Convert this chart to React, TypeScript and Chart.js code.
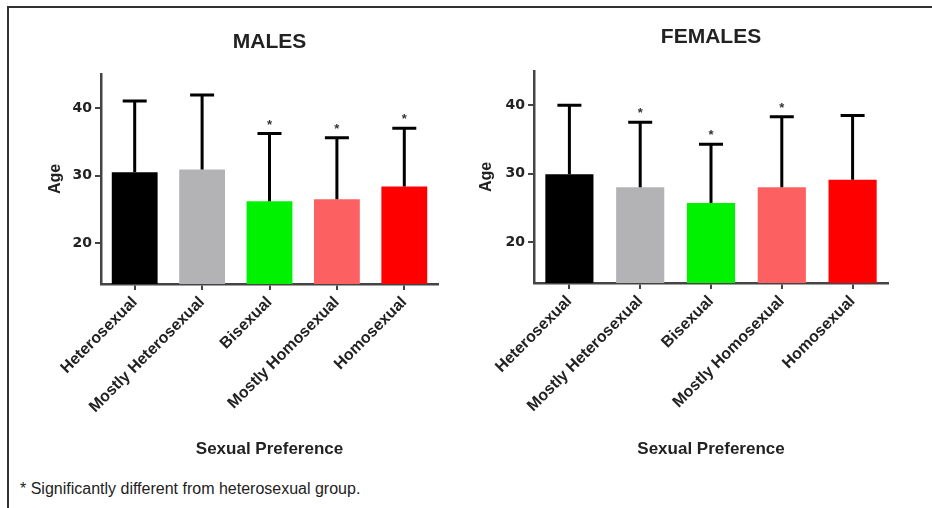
import React, { useEffect, useRef } from "react";
import { Chart, registerables } from "chart.js";

Chart.register(...registerables);

const categories = ["Heterosexual", "Mostly Heterosexual", "Bisexual", "Mostly Homosexual", "Homosexual"];
const barColors = ["#000000", "#b3b3b6", "#00f200", "#fd6060", "#fe0000"];

const maleMeans = [30.5, 30.9, 26.2, 26.5, 28.4];
const maleSD = [10.5, 11.0, 10.0, 9.1, 8.6];
const maleSignificant = [false, false, true, true, true];

const femaleMeans = [29.9, 28.0, 25.7, 28.0, 29.1];
const femaleSD = [10.1, 9.5, 8.6, 10.3, 9.4];
const femaleSignificant = [false, true, true, true, false];

const yTicks = [20, 30, 40];
const yMin = 14;
const yMax = 45;

const FAMILY = '"Liberation Sans", Arial, Helvetica, sans-serif';
const TEXT = "#222222";
const AXIS = "#444444";

function errorBarPlugin(sds: number[], sig: boolean[]) {
  return {
    id: "errorBars",
    afterDatasetsDraw(chart: any) {
      const ctx = chart.ctx;
      const meta = chart.getDatasetMeta(0);
      const yScale = chart.scales.y;
      const data = chart.data.datasets[0].data as number[];
      ctx.save();
      ctx.strokeStyle = "#000";
      ctx.lineWidth = 3;
      meta.data.forEach((bar: any, i: number) => {
        const x = bar.x;
        const y0 = yScale.getPixelForValue(data[i]);
        const y1 = yScale.getPixelForValue(data[i] + sds[i]);
        ctx.beginPath();
        ctx.moveTo(x, y0);
        ctx.lineTo(x, y1);
        ctx.moveTo(x - 12, y1);
        ctx.lineTo(x + 12, y1);
        ctx.stroke();
        if (sig[i]) {
          ctx.fillStyle = "#333";
          ctx.font = `bold 13px ${FAMILY}`;
          ctx.textAlign = "center";
          ctx.textBaseline = "alphabetic";
          ctx.fillText("*", x, y1 - 5);
        }
      });
      ctx.restore();
    },
  };
}

type PanelProps = {
  left: number;
  width: number;
  height: number;
  title: string;
  means: number[];
  sds: number[];
  sig: boolean[];
  chartLeft: number;
  chartRight: number;
  chartBottom: number;
  titlePadTop: number;
  titlePadBottom: number;
  yTitlePad: number;
};

function Panel(p: PanelProps) {
  const ref = useRef<HTMLCanvasElement>(null);
  useEffect(() => {
    const chart = new Chart(ref.current as HTMLCanvasElement, {
      type: "bar",
      data: {
        labels: categories,
        datasets: [
          {
            data: p.means,
            backgroundColor: barColors,
            borderWidth: 0,
            barPercentage: 0.68,
            categoryPercentage: 1,
          },
        ],
      },
      options: {
        responsive: false,
        animation: false,
        devicePixelRatio: 1,
        layout: { padding: { left: 0, right: p.width - p.chartRight, top: 0, bottom: 0 } },
        plugins: {
          legend: { display: false },
          tooltip: { enabled: false },
          title: {
            display: true,
            text: p.title,
            fullSize: false,
            color: TEXT,
            font: { family: FAMILY, size: 21, weight: "bold", lineHeight: 1.2 },
            padding: { top: p.titlePadTop, bottom: p.titlePadBottom },
          },
        },
        scales: {
          x: {
            grid: { offset: false, drawOnChartArea: false, tickLength: 6, color: AXIS, lineWidth: 2 },
            border: { display: true, color: AXIS, width: 2.5 },
            ticks: {
              autoSkip: false,
              minRotation: 45,
              maxRotation: 45,
              color: TEXT,
              padding: 3,
              font: { family: FAMILY, size: 16, weight: "bold" },
            },
            title: {
              display: true,
              text: "Sexual Preference",
              color: TEXT,
              font: { family: FAMILY, size: 17, weight: "bold", lineHeight: 1.2 },
              padding: { top: 0, bottom: 10 },
            },
            afterFit: (s: any) => {
              s.height = p.height - p.chartBottom;
            },
          },
          y: {
            min: yMin,
            max: yMax,
            afterBuildTicks: (s: any) => {
              s.ticks = yTicks.map((v) => ({ value: v }));
            },
            afterFit: (s: any) => {
              s.width = p.chartLeft;
            },
            grid: { drawOnChartArea: false, tickLength: 6, color: AXIS, lineWidth: 2 },
            border: { display: true, color: AXIS, width: 2.5 },
            ticks: {
              color: TEXT,
              padding: 3,
              font: { family: '"DejaVu Sans", sans-serif', size: 14, weight: "bold" },
            },
            title: {
              display: true,
              text: "Age",
              color: TEXT,
              font: { family: FAMILY, size: 16, weight: "bold", lineHeight: 1.2 },
              padding: { top: p.yTitlePad, bottom: 0 },
            },
          },
        },
      } as any,
      plugins: [errorBarPlugin(p.sds, p.sig)],
    });
    return () => chart.destroy();
  }, []);
  return (
    <canvas
      ref={ref}
      width={p.width}
      height={p.height}
      style={{ position: "absolute", left: p.left, top: 0, width: p.width, height: p.height }}
    />
  );
}

export default function App() {
  return (
    <div
      style={{
        position: "absolute",
        left: 0,
        top: 0,
        width: 932,
        height: 508,
        background: "#fff",
        overflow: "hidden",
      }}
    >
      <div style={{ position: "absolute", left: 7, top: 6, width: 925, height: 2, background: "#333" }} />
      <div style={{ position: "absolute", left: 7, top: 6, width: 2, height: 502, background: "#333" }} />
      <Panel
        left={0}
        width={466}
        height={470}
        title="MALES"
        means={maleMeans}
        sds={maleSD}
        sig={maleSignificant}
        chartLeft={101}
        chartRight={438}
        chartBottom={284}
        titlePadTop={29.4}
        titlePadBottom={19.4}
        yTitlePad={46}
      />
      <Panel
        left={466}
        width={466}
        height={470}
        title="FEMALES"
        means={femaleMeans}
        sds={femaleSD}
        sig={femaleSignificant}
        chartLeft={68}
        chartRight={422}
        chartBottom={283}
        titlePadTop={24.4}
        titlePadBottom={21.4}
        yTitlePad={11}
      />
      <div
        style={{
          position: "absolute",
          left: 20,
          top: 480,
          fontFamily: FAMILY,
          fontSize: 16,
          lineHeight: "18px",
          color: "#222",
          whiteSpace: "nowrap",
        }}
      >
        * Significantly different from heterosexual group.
      </div>
    </div>
  );
}
